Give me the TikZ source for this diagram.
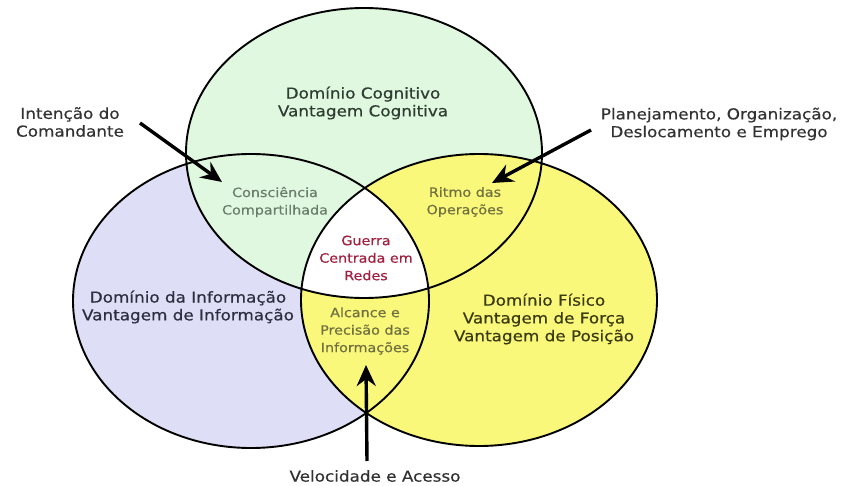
\documentclass[tikz,border=0pt]{standalone}
\usepackage{fontspec}
\setmainfont[FakeStretch=1.12,FakeBold=0.5]{DejaVu Sans}
\usetikzlibrary{arrows.meta}

\definecolor{cogfill}{RGB}{224,248,224}
\definecolor{inffill}{RGB}{222,222,246}
\definecolor{fisfill}{RGB}{250,248,122}
\definecolor{cogtext}{RGB}{47,60,50}
\definecolor{inftext}{RGB}{46,46,64}
\definecolor{fistext}{RGB}{58,58,16}
\definecolor{sharetext}{RGB}{106,124,106}
\definecolor{olivetext}{RGB}{112,112,64}
\definecolor{redtext}{RGB}{160,32,64}
\definecolor{outtext}{RGB}{50,50,50}

\def\infpath{(251,301) ellipse [x radius=178, y radius=147]}
\def\cogpath{(364,153) ellipse [x radius=178, y radius=145]}
\def\fispath{(479,300) ellipse [x radius=178, y radius=146]}

\begin{document}
\begin{tikzpicture}
  [x=1pt,y=-1pt,
   every node/.style={align=center,inner sep=0pt,font=\fontsize{15}{17.8}\selectfont},
   small/.style={font=\fontsize{12.8}{17.5}\selectfont},
   ring/.style={line width=1.9pt},
   pointer/.style={line width=3.4pt,-{Stealth[length=21pt,width=19pt,inset=7pt]}}]
\useasboundingbox (0,0) rectangle (852,486);
% the three domains
\fill[inffill] \infpath;
\fill[cogfill] \cogpath;
\fill[fisfill] \fispath;
\begin{scope}
  \clip \infpath;
  \clip \cogpath;
  \fill[white] \fispath;
\end{scope}
\draw[ring] \infpath \cogpath \fispath;
% labels
\node[text=cogtext] (cog) at (363,103) {Domínio Cognitivo\\Vantagem Cognitiva};
\node[text=inftext] (inf) at (188,307) {Domínio da Informação\\Vantagem de Informação};
\node[text=fistext] (fis) at (544,319) {Domínio Físico\\Vantagem de Força\\Vantagem de Posição};
\node[small,text=sharetext] (consc) at (275,202) {Consciência\\Compartilhada};
\node[small,text=olivetext] (ritmo) at (465,202) {Ritmo das\\Operações};
\node[small,text=redtext] (guerra) at (366,258) {Guerra\\Centrada em\\Redes};
\node[small,text=olivetext] (alcance) at (365,331) {Alcance e\\Precisão das\\Informações};
\node[text=outtext] (intencao) at (70,122) {Intenção do\\Comandante};
\node[text=outtext] (planej) at (719,124) {Planejamento, Organização,\\Deslocamento e Emprego};
\node[text=outtext] (veloc) at (375,476) {Velocidade e Acesso};
% arrows
\coordinate (intencaoA) at (140,123);
\coordinate (intencaoB) at (222,182);
\coordinate (planejA) at (591,130);
\coordinate (planejB) at (492,183);
\coordinate (velocA) at (367,461);
\coordinate (velocB) at (366,365);
\draw[pointer] (intencaoA) -- (intencaoB);
\draw[pointer] (planejA) -- (planejB);
\draw[pointer] (velocA) -- (velocB);
\end{tikzpicture}
\end{document}
